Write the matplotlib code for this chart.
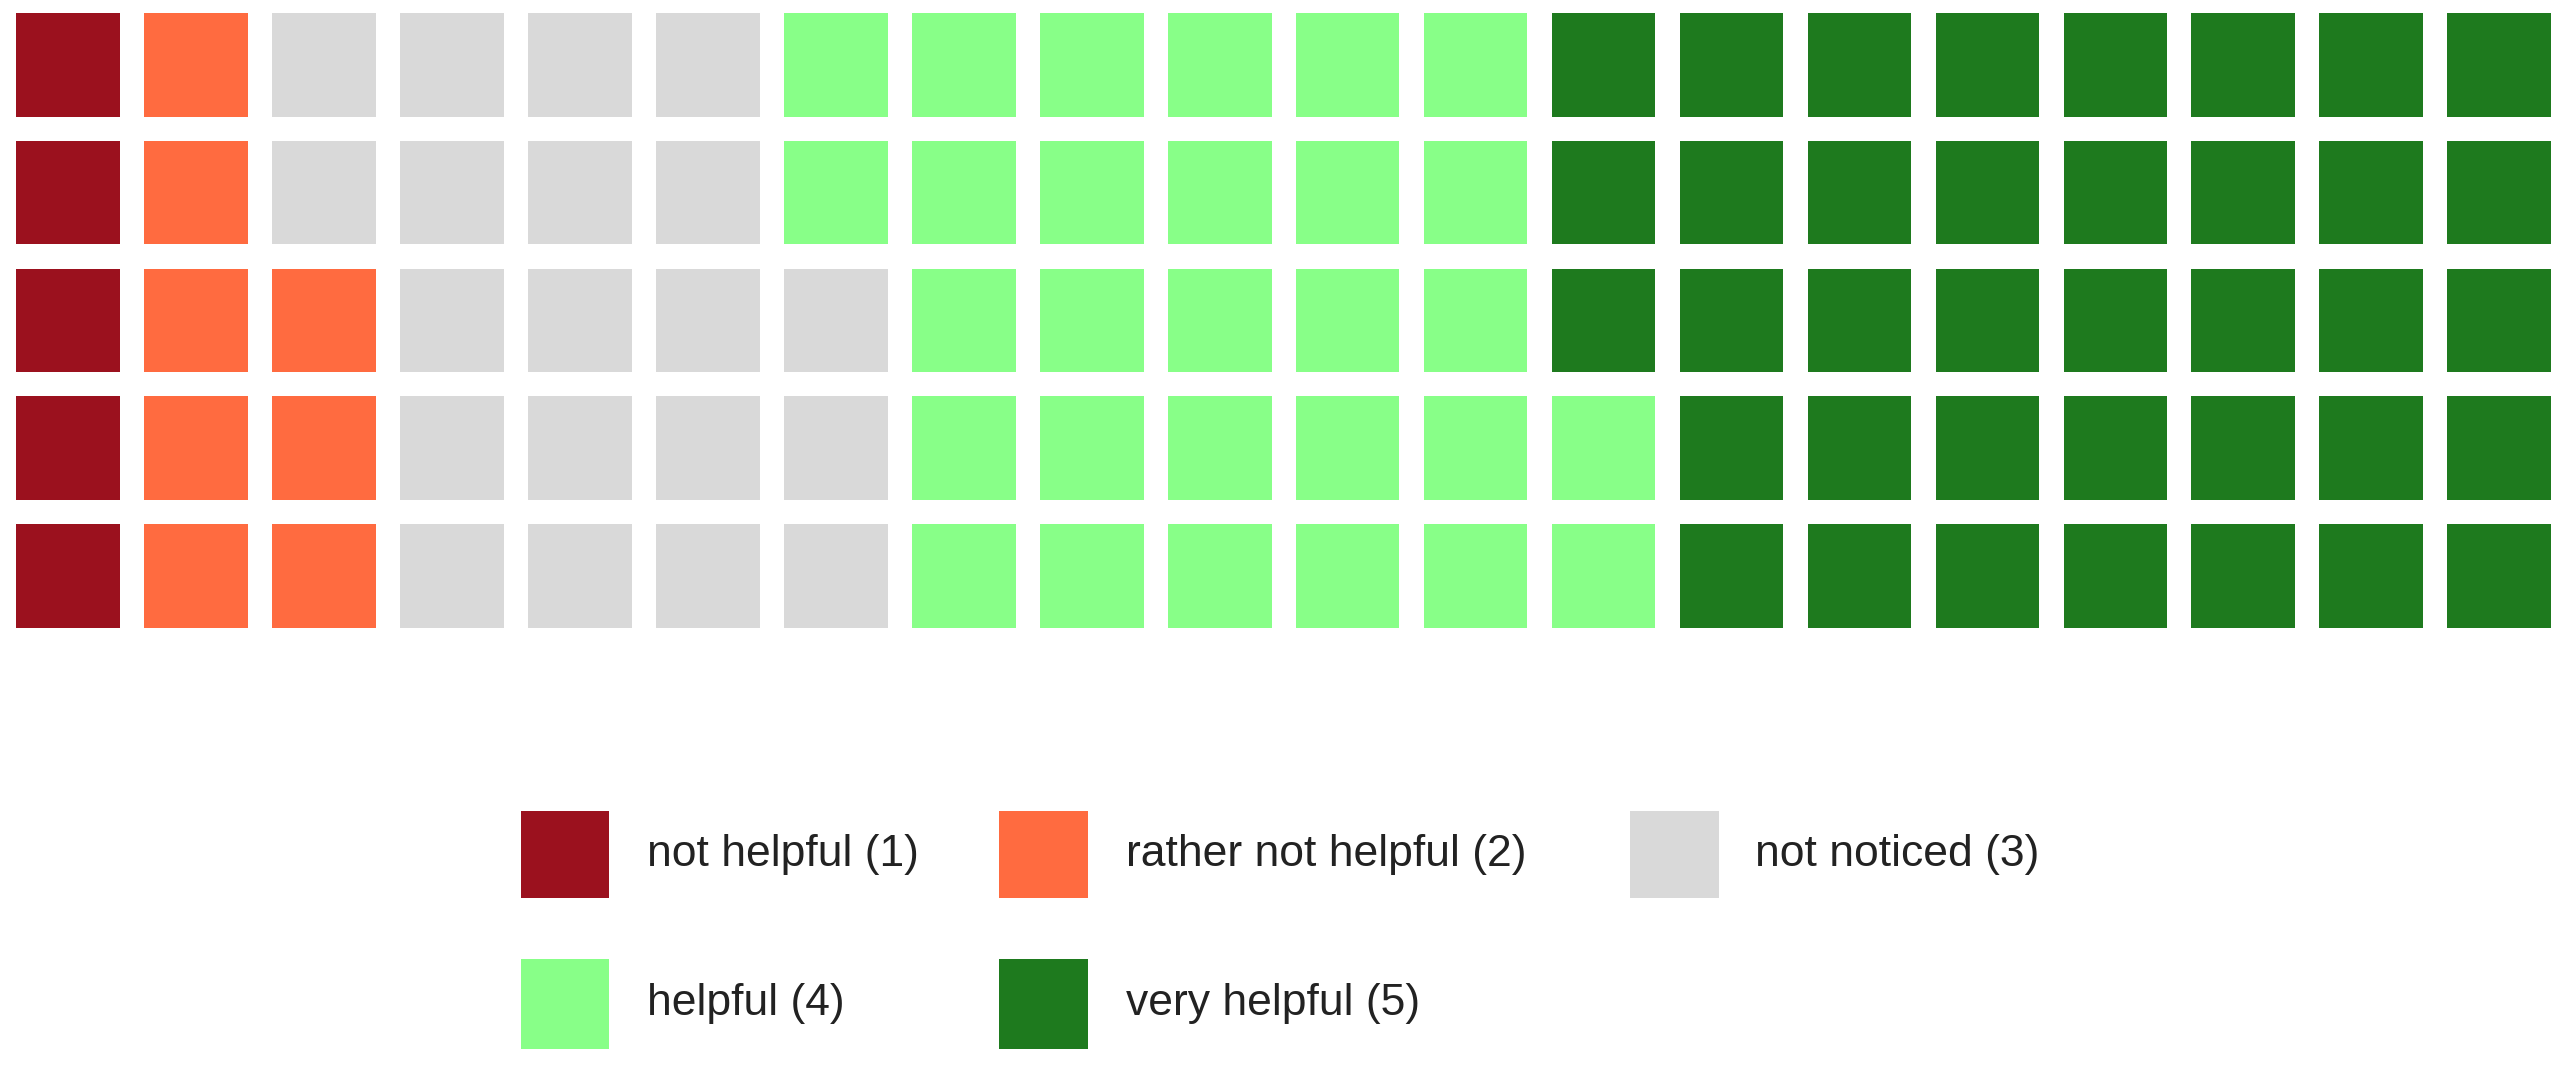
import matplotlib
matplotlib.use("Agg")
import matplotlib.pyplot as plt
from matplotlib.patches import Rectangle

categories = ["not helpful (1)", "rather not helpful (2)", "not noticed (3)", "helpful (4)", "very helpful (5)"]
counts = [5, 8, 20, 29, 38]
colors = ["#9B111E", "#FF6B40", "#D9D9D9", "#88FF88", "#1E7A1E"]
n_rows, n_cols = 5, 20

plt.rcParams['font.family'] = ['Liberation Sans', 'DejaVu Sans']
fig = plt.figure(figsize=(25.69, 10.67), dpi=100)
W, H = 1568, 651
ax = fig.add_axes([10/W, 1-383/H, 1547/W, 375/H])
sq = 0.81
cells = []
for c, n in zip(colors, counts):
    cells += [c] * n
for k, c in enumerate(cells):
    col, r = divmod(k, n_rows)
    row = n_rows - 1 - r
    ax.add_patch(Rectangle((col, row), sq, sq, facecolor=c, edgecolor='none'))
ax.set_xlim(0, n_cols - 1 + sq)
ax.set_ylim(n_rows - 1 + sq, 0)
ax.axis('off')

# legend
sq_x = [318, 610, 995]
txt_x = [395, 687, 1071]
rows_y = [(495, 548), (585, 640)]
for i, (lab, c) in enumerate(zip(categories, colors)):
    r, ci = divmod(i, 3)
    y0, y1 = rows_y[r]
    fig.patches.append(Rectangle((sq_x[ci]/W, 1-y1/H), 54/W, (y1-y0)/H,
                                 facecolor=c, edgecolor='none', transform=fig.transFigure, figure=fig))
    fig.text(txt_x[ci]/W, 1-(y0+y1)/2/H, lab, fontsize=32, va='center', ha='left', color='#222222')

fig.savefig("out.png", dpi=100)
